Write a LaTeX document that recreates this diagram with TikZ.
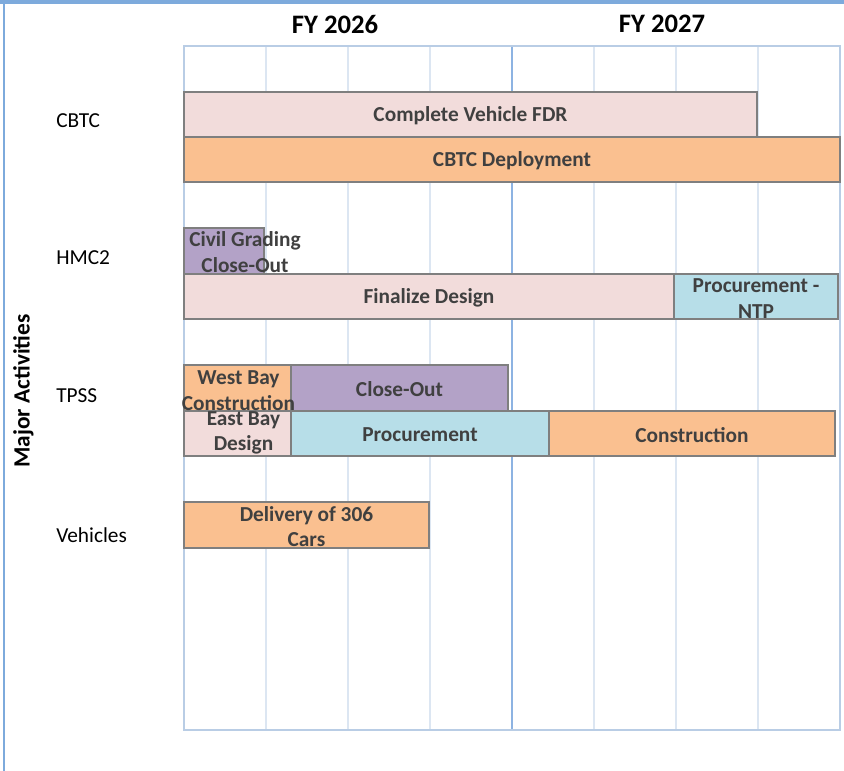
\documentclass[tikz,border=0pt]{standalone}
\usepackage{fontspec}
\setmainfont{Carlito}
\definecolor{pinkbar}{HTML}{F2DCDB}
\definecolor{orangebar}{HTML}{FAC090}
\definecolor{purplebar}{HTML}{B3A2C7}
\definecolor{bluebar}{HTML}{B7DEE8}
\definecolor{barline}{HTML}{7F7F7F}
\definecolor{bartext}{HTML}{404040}
\definecolor{gridlight}{HTML}{DCE6F2}
\definecolor{gridouter}{HTML}{B9CDE5}
\definecolor{gridmid}{HTML}{8DB3E2}
\definecolor{frameblue}{HTML}{7DAADC}
\tikzset{
  bar/.style={draw=barline, line width=1.5pt},
  lbl/.style={text=bartext, font=\fontsize{16}{19.2}\selectfont\bfseries, align=center, inner sep=0pt},
  rowlbl/.style={text=black, font=\fontsize{16}{19.2}\selectfont, anchor=west, inner sep=0pt},
  yearlbl/.style={text=black, font=\fontsize{20}{24}\selectfont\bfseries, inner sep=0pt},
  gridv/.style={draw=gridlight, line width=1.5pt},
}
\begin{document}
\begin{tikzpicture}[x=0.75pt, y=-0.75pt]
\useasboundingbox (0,0) rectangle (844,771);
% outer frame
\draw[frameblue, line width=3pt] (0,2) -- (844,2);
\draw[frameblue, line width=1.5pt] (4.3,0) -- (4.3,771);
% grid
\foreach \xx in {266,348,430,594,676,758} {
  \draw[gridv] (\xx,46) -- (\xx,730);
}
\draw[gridmid, line width=1.5pt] (512,46) -- (512,730);
\draw[gridouter, line width=1.5pt] (184,46) rectangle (840,730);
% year headers
\node[yearlbl] (fy26) at (335,24) {FY 2026};
\node[yearlbl] (fy27) at (662,24) {FY 2027};
% axis title
\node[text=black, font=\fontsize{17.5}{21}\selectfont\bfseries, rotate=90, inner sep=0pt] (axis) at (23.5,391) {Major Activities};
% row labels
\node[rowlbl] (rcbtc) at (56,120.5) {CBTC};
\node[rowlbl] (rhmc) at (56,258) {HMC2};
\node[rowlbl] (rtpss) at (56,395.5) {TPSS};
\node[rowlbl] (rveh) at (56,535) {Vehicles};
% bars
\draw[bar, fill=pinkbar] (184,92) rectangle (757,137);
\draw[bar, fill=orangebar] (184,137) rectangle (840,182);
\draw[bar, fill=purplebar] (184,228) rectangle (264,274);
\draw[bar, fill=pinkbar] (184,274) rectangle (674,319);
\draw[bar, fill=bluebar] (674,274) rectangle (838,319);
\draw[bar, fill=orangebar] (184,365) rectangle (291,410.5);
\draw[bar, fill=purplebar] (291,365) rectangle (508,410.5);
\draw[bar, fill=pinkbar] (184,410.5) rectangle (291,456);
\draw[bar, fill=bluebar] (291,410.5) rectangle (549,456);
\draw[bar, fill=orangebar] (549,410.5) rectangle (835,456);
\draw[bar, fill=orangebar] (184,502) rectangle (429,547.5);
% bar labels
\node[lbl] (fdr) at (470.5,116) {Complete Vehicle FDR};
\node[lbl] (dep) at (512,161) {CBTC Deployment};
\node[lbl] (civ) at (245,252) {Civil Grading\\Close-Out};
\node[lbl] (fin) at (429,298) {Finalize Design};
\node[lbl] (ntp) at (756,298.5) {Procurement -\\NTP};
\node[lbl] (wbc) at (238.5,390.5) {West Bay\\Construction};
\node[lbl] (clo) at (399.5,389.5) {Close-Out};
\node[lbl] (ebd) at (243.5,433) {East Bay\\Design};
\node[lbl] (pro) at (420,435) {Procurement};
\node[lbl] (con) at (692,435) {Construction};
\node[lbl] (del) at (306.5,526.5) {Delivery of 306\\Cars};
\end{tikzpicture}
\end{document}
